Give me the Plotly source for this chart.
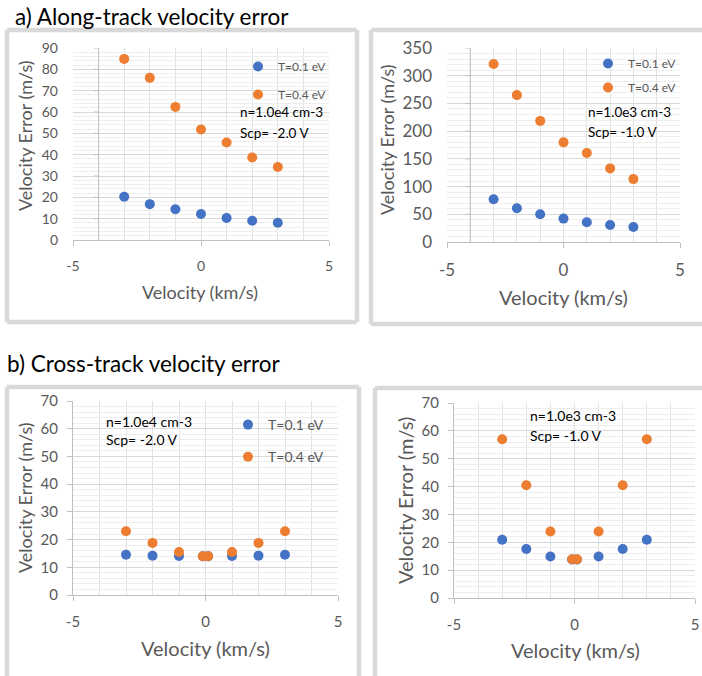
import plotly.graph_objects as go

# ---- data -------------------------------------------------------------
vel_along = [-3, -2, -1, 0, 1, 2, 3]                 # km/s
along_n4_t01 = [20.3, 16.8, 14.4, 12.2, 10.3, 9.0, 8.1]
along_n4_t04 = [84.9, 76.0, 62.4, 51.8, 45.7, 38.7, 34.2]
along_n3_t01 = [77.2, 61.0, 50.1, 42.2, 35.6, 30.8, 27.2]
along_n3_t04 = [321.0, 265.0, 218.5, 179.8, 160.5, 132.8, 113.5]

vel_cross = [-3, -2, -1, -0.1, 0.1, 1, 2, 3]         # km/s
cross_n4_t01 = [14.5, 14.2, 14.1, 14.0, 14.0, 14.1, 14.2, 14.5]
cross_n4_t04 = [23.0, 18.8, 15.5, 14.0, 14.0, 15.5, 18.8, 23.0]
cross_n3_t01 = [20.9, 17.6, 14.9, 13.8, 13.8, 14.9, 17.6, 20.9]
cross_n3_t04 = [57.0, 40.5, 23.9, 13.9, 13.9, 23.9, 40.5, 57.0]

series_names = ["T=0.1 eV", "T=0.4 eV"]
x_ticks = [-5, 0, 5]
x_tick_text = ["-5", "0", "5"]
x_title = "Velocity (km/s)"
y_title = "Velocity Error (m/s)"
panel_titles = ["a) Along-track velocity error", "b) Cross-track velocity error"]
plasma_labels = [("n=1.0e4 cm-3", "Scp= -2.0 V"), ("n=1.0e3 cm-3", "Scp= -1.0 V")]

# ---- styling ----------------------------------------------------------
W, H = 702, 676
FONT = "Lato"
BLUE, ORANGE = "#4472C4", "#ED7D31"
GREY_TXT = "#595959"
AXIS_C = "#bfbfbf"
GRID_MAJ = "#d9d9d9"
GRID_MIN = "#eeeeee"
GRID_V = "#e1e1e1"
FRAME_C = "#d9d9d9"


def fx(p):
    return p / W


def fy(p):
    return 1 - p / H


panels = [
    dict(n="", x=vel_along, ys=(along_n4_t01, along_n4_t04), box=(73, 329, 48, 240),
         yr=(0, 90), dt=10, mdt=2, tick_fs=14, axis_at=-4, legend="legend",
         labels=plasma_labels[0], lab_xy=(238, 112, 133), lab_fs=13.5,
         xt=(200, 292, 18), yt=(25, 136, 18)),
    dict(n="2", x=vel_along, ys=(along_n3_t01, along_n3_t04), box=(447, 680, 48, 242),
         yr=(0, 350), dt=50, mdt=10, tick_fs=17, axis_at=-4, legend="legend2",
         labels=plasma_labels[1], lab_xy=(586, 112, 132), lab_fs=13.5,
         xt=(563, 297, 20), yt=(387, 140, 18)),
    dict(n="3", x=vel_cross, ys=(cross_n4_t01, cross_n4_t04), box=(73, 338, 401, 595),
         yr=(0, 70), dt=10, mdt=2, tick_fs=15, axis_at=None, legend="legend3",
         labels=plasma_labels[0], lab_xy=(104, 421, 439), lab_fs=14,
         xt=(205, 648, 20), yt=(25, 498, 18)),
    dict(n="4", x=vel_cross, ys=(cross_n3_t01, cross_n3_t04), box=(454, 695, 403, 598),
         yr=(0, 70), dt=10, mdt=2, tick_fs=15, axis_at=None, legend=None,
         labels=plasma_labels[1], lab_xy=(528, 415, 435), lab_fs=14,
         xt=(575, 650, 20), yt=(405, 500, 20)),
]

fig = go.Figure()
shapes = []
annotations = []
layout = {}

for p in panels:
    xa, ya = "x" + p["n"], "y" + p["n"]
    x0, x1, y0, y1 = p["box"]
    for name, yv, col in zip(series_names, p["ys"], (BLUE, ORANGE)):
        tr = dict(x=p["x"], y=yv, mode="markers", name=name, xaxis=xa, yaxis=ya,
                  marker=dict(color=col, size=10, line=dict(width=0)),
                  showlegend=p["legend"] is not None, cliponaxis=False)
        if p["legend"]:
            tr["legend"] = p["legend"]
            tr["legendgroup"] = name + p["n"]
        fig.add_trace(go.Scatter(**tr))

    layout["xaxis" + p["n"]] = dict(
        domain=[fx(x0), fx(x1)], anchor=ya, range=[-5, 5], automargin=False,
        tickmode="array", tickvals=x_ticks, ticktext=x_tick_text,
        showgrid=True, gridcolor=GRID_V, gridwidth=1, zeroline=False,
        minor=dict(dtick=1, showgrid=True, gridcolor=GRID_V, ticks=""),
        showline=True, linecolor=AXIS_C, linewidth=1,
        ticks="outside", ticklen=5, tickcolor=AXIS_C,
        ticklabelstandoff=8,
        tickfont=dict(family=FONT, size=p["tick_fs"], color=GREY_TXT),
    )
    yax = dict(
        domain=[fy(y1), fy(y0)], anchor=xa, range=list(p["yr"]), dtick=p["dt"],
        automargin=False,
        showgrid=True, gridcolor=GRID_MAJ, gridwidth=1, zeroline=False,
        minor=dict(dtick=p["mdt"], showgrid=True, gridcolor=GRID_MIN, ticks=""),
        tickfont=dict(family=FONT, size=p["tick_fs"], color=GREY_TXT),
    )
    if p["axis_at"] is None:
        yax.update(showline=True, linecolor=AXIS_C, ticks="outside", ticklen=5,
                   tickcolor=AXIS_C, ticklabelstandoff=6)
    else:
        yax.update(showline=False, ticks="", ticklabelstandoff=14)
        # value axis crossing the category axis at x = axis_at
        shapes.append(dict(type="line", xref=xa, yref=ya + " domain",
                           x0=p["axis_at"], x1=p["axis_at"], y0=0, y1=1,
                           line=dict(color=AXIS_C, width=1)))
        for v in range(p["yr"][0] + p["dt"], p["yr"][1] + 1, p["dt"]):
            shapes.append(dict(type="line", xref=xa, yref=ya,
                               xsizemode="pixel", xanchor=p["axis_at"], x0=-5, x1=0,
                               y0=v, y1=v, line=dict(color=AXIS_C, width=1)))
    layout["yaxis" + p["n"]] = yax

    # axis titles
    tx, ty, tfs = p["xt"]
    annotations.append(dict(text=x_title, x=fx(tx), y=fy(ty), xref="paper", yref="paper",
                            showarrow=False, xanchor="center", yanchor="middle",
                            font=dict(family=FONT, size=tfs, color=GREY_TXT)))
    tx, ty, tfs = p["yt"]
    annotations.append(dict(text=y_title, x=fx(tx), y=fy(ty), xref="paper", yref="paper",
                            showarrow=False, xanchor="center", yanchor="middle", textangle=-90,
                            font=dict(family=FONT, size=tfs, color=GREY_TXT)))
    # plasma parameters
    lx, ly1, ly2 = p["lab_xy"]
    for txt, ly in zip(p["labels"], (ly1, ly2)):
        annotations.append(dict(text=txt, x=fx(lx), y=fy(ly), xref="paper", yref="paper",
                                showarrow=False, xanchor="left", yanchor="middle",
                                font=dict(family=FONT, size=p["lab_fs"], color="#000000")))

# chart frames (left, right, top, bottom in px; None = runs past the page edge)
frames = [(7, 357, 30, 322), (371, None, 30, 324), (7, 359, 387, None), (375, None, 388, None)]
for a, b, c, d in frames:
    right = b if b is not None else W
    bottom = d if d is not None else H
    segs = [(a, c, right, c), (a, c, a, bottom)]
    if b is not None:
        segs.append((b, c, b, bottom))
    if d is not None:
        segs.append((a, d, right, d))
    for sx0, sy0, sx1, sy1 in segs:
        shapes.append(dict(type="line", xref="paper", yref="paper",
                           x0=fx(sx0), x1=fx(sx1), y0=fy(sy0), y1=fy(sy1),
                           line=dict(color=FRAME_C, width=4.5)))

# panel headings
for txt, tx, ty in zip(panel_titles, (13, 5), (17, 363)):
    annotations.append(dict(text=txt, x=fx(tx), y=fy(ty), xref="paper", yref="paper",
                            showarrow=False, xanchor="left", yanchor="middle",
                            font=dict(family=FONT, size=22.5, color="#000000")))

legend_common = dict(bgcolor="rgba(0,0,0,0)", borderwidth=0, xanchor="left", yanchor="top",
                     traceorder="grouped", itemwidth=30)
layout["legend"] = dict(legend_common, x=fx(238), y=fy(52), tracegroupgap=9,
                        font=dict(family=FONT, size=12, color=GREY_TXT))
layout["legend2"] = dict(legend_common, x=fx(588), y=fy(49), tracegroupgap=5,
                         font=dict(family=FONT, size=12, color=GREY_TXT))
layout["legend3"] = dict(legend_common, x=fx(228), y=fy(409), tracegroupgap=11,
                         font=dict(family=FONT, size=14, color=GREY_TXT))

fig.update_layout(
    width=W, height=H, margin=dict(l=0, r=0, t=0, b=0, autoexpand=False),
    paper_bgcolor="white", plot_bgcolor="white",
    font=dict(family=FONT, color=GREY_TXT),
    shapes=shapes, annotations=annotations,
    **layout,
)

fig.write_html("out.html")
